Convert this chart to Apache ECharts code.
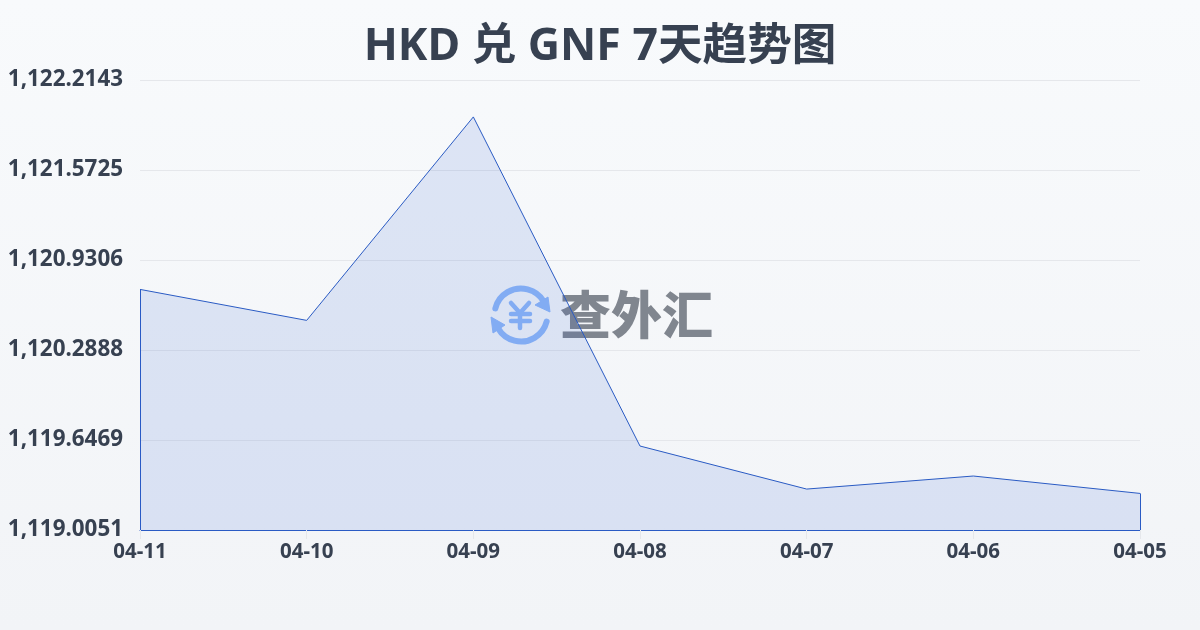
<!DOCTYPE html>
<html><head><meta charset="utf-8">
<style>html,body{margin:0;padding:0;background:#f6f8fa}#c{width:1200px;height:630px}</style>
<script src="https://cdn.jsdelivr.net/npm/echarts@6/dist/echarts.min.js"></script>
</head><body><div id="c"></div>
<script>
const titleText = 'HKD 兑 GNF 7天趋势图';
const categories = ['04-11','04-10','04-09','04-08','04-07','04-06','04-05'];
const rates = [1120.721,1120.500,1121.951,1119.604,1119.297,1119.390,1119.266];
const yTicks = [1119.0051,1119.6469,1120.2888,1120.9306,1121.5725,1122.2143];
const fontFam = '"Noto Sans","Noto Sans CJK SC",sans-serif';
const blue = '#2a5bc4';
const ink = '#374151';
const logo = '#8fb8f8';
const chart = echarts.init(document.getElementById('c'), null, {renderer:'canvas'});
const yMin = yTicks[0], yMax = yTicks[yTicks.length-1];
const sideLines = [0, categories.length-1].map(i => [
  {coord:[categories[i], yMin]},{coord:[categories[i], rates[i]]}
]);
const yenStroke = {stroke:logo,lineWidth:4.5,fill:'none',lineCap:'round',lineJoin:'round'};
chart.setOption({
  animation:false,
  backgroundColor:{type:'linear',x:0,y:0,x2:0,y2:1,colorStops:[{offset:0,color:'#f8fafc'},{offset:1,color:'#f2f4f7'}]},
  title:{text:titleText,left:'center',top:20,textStyle:{fontFamily:fontFam,fontSize:44.6,fontWeight:700,color:ink}},
  grid:{left:140,right:60,top:80,bottom:100},
  xAxis:{type:'category',data:categories,boundaryGap:false,
    axisLine:{show:true,lineStyle:{color:blue,width:1}},
    axisTick:{show:true,length:9,lineStyle:{color:'#e5e7eb'}},
    axisLabel:{color:ink,fontFamily:fontFam,fontSize:20.5,fontWeight:700,margin:12,showMinLabel:true,showMaxLabel:true,interval:0}},
  yAxis:{type:'value',min:yMin,max:yMax,
    axisLine:{show:false},
    axisTick:{show:false,customValues:yTicks},
    splitLine:{show:true,lineStyle:{color:'#e5e7eb',width:1}},
    axisLabel:{customValues:yTicks,color:ink,fontFamily:fontFam,fontSize:22.4,fontWeight:700,margin:17,
      formatter:v=>v.toLocaleString('en-US',{minimumFractionDigits:4,maximumFractionDigits:4})}},
  graphic:{elements:[
    {type:'group',z:-1,silent:true,children:[
      {type:'arc',shape:{cx:521,cy:315,r:26.5,startAngle:Math.PI*1.08,endAngle:Math.PI*1.83,clockwise:true},style:{stroke:logo,lineWidth:6,fill:'none',lineCap:'round'}},
      {type:'arc',shape:{cx:521,cy:315,r:26.5,startAngle:Math.PI*0.08,endAngle:Math.PI*0.83,clockwise:true},style:{stroke:logo,lineWidth:6,fill:'none',lineCap:'round'}},
      {type:'polygon',shape:{points:[[548,297],[550,312],[535,305]]},style:{fill:logo,stroke:logo,lineWidth:1,lineJoin:'round'}},
      {type:'polygon',shape:{points:[[491,317],[505,325],[493,333]]},style:{fill:logo,stroke:logo,lineWidth:1,lineJoin:'round'}},
      {type:'polyline',shape:{points:[[511,303],[520,313],[529,303]]},style:yenStroke},
      {type:'line',shape:{x1:520,y1:313,x2:520,y2:328},style:yenStroke},
      {type:'line',shape:{x1:511,y1:314,x2:530,y2:314},style:yenStroke},
      {type:'line',shape:{x1:511,y1:321,x2:530,y2:321},style:yenStroke},
      {type:'text',style:{x:560,y:315,text:'查外汇',align:'left',verticalAlign:'middle',font:'900 51px "Noto Sans CJK SC",sans-serif',fill:'#80868f'}}
    ]}
  ]},
  series:[{type:'line',data:rates,symbol:'none',smooth:false,z:5,
    lineStyle:{color:blue,width:1},
    areaStyle:{color:'rgba(40,90,210,0.18)',origin:'start'},
    markLine:{silent:true,symbol:'none',label:{show:false},lineStyle:{color:blue,width:1,type:'solid'},data:sideLines}
  }]
});
</script></body></html>
